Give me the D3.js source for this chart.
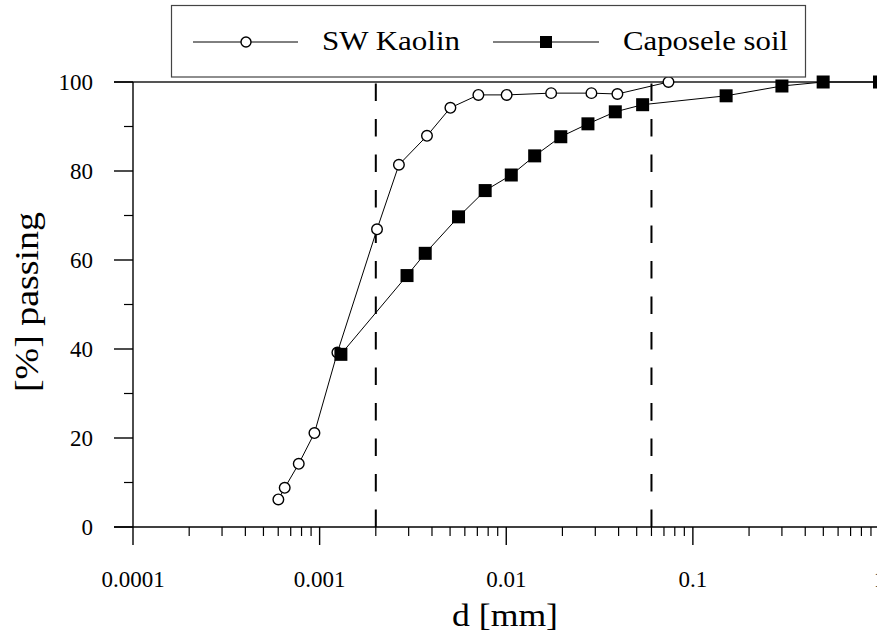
<!DOCTYPE html>
<html>
<head>
<meta charset="utf-8">
<script src="https://cdn.jsdelivr.net/npm/d3@7"></script>
<style>
html,body{margin:0;padding:0;background:#fff;overflow:hidden;}
svg{display:block;}
</style>
</head>
<body>
<svg id="chart" width="877" height="633" font-family="'Liberation Serif', 'Times New Roman', Times, 'DejaVu Serif', serif"></svg>
<script>
// ---- data ----
const kaolinD = [0.000601, 0.00065, 0.000773, 0.000938, 0.001245, 0.00203, 0.00266, 0.00376, 0.00502, 0.00709, 0.01005, 0.0174, 0.0286, 0.0394, 0.074];
const kaolinP = [6.2, 8.8, 14.2, 21.1, 39.2, 66.9, 81.4, 87.9, 94.2, 97.1, 97.1, 97.5, 97.5, 97.3, 100];
const caposeleD = [0.0013, 0.00294, 0.00368, 0.00555, 0.00771, 0.01064, 0.0142, 0.0196, 0.0274, 0.0384, 0.0538, 0.1507, 0.30, 0.499, 1.0];
const caposeleP = [38.8, 56.5, 61.5, 69.7, 75.6, 79.1, 83.4, 87.7, 90.6, 93.3, 94.9, 96.9, 99.1, 100, 100];
const xTickValues = [0.0001, 0.001, 0.01, 0.1, 1];
const xTickLabels = ["0.0001", "0.001", "0.01", "0.1", "1"];
const yTickValues = [0, 20, 40, 60, 80, 100];
const yTickLabels = ["0", "20", "40", "60", "80", "100"];
const refLines = [0.002, 0.06];
const seriesNames = ["SW Kaolin", "Caposele soil"];
const xTitle = "d [mm]";
const yTitle = "[%] passing";

// ---- layout ----
const svg = d3.select("#chart");
const FONT = "'Liberation Serif', 'Times New Roman', Times, 'DejaVu Serif', serif";
const x = d3.scaleLog().domain([0.0001, 1]).range([133, 879.5]);
const y = d3.scaleLinear().domain([0, 100]).range([527, 82]);

// top line
svg.append("line").attr("x1", 114).attr("x2", 877).attr("y1", y(100)).attr("y2", y(100))
  .attr("stroke", "#555").attr("stroke-width", 2);

// minor x ticks
const minorX = [];
for (let e = -4; e < 0; e++) for (let m = 2; m <= 9; m++) minorX.push(m * Math.pow(10, e));
svg.append("g").selectAll("line").data(minorX).join("line")
  .attr("x1", d => x(d)).attr("x2", d => x(d)).attr("y1", y(0)).attr("y2", y(0) + 9)
  .attr("stroke", "#000").attr("stroke-width", 1.2);
svg.append("g").selectAll("line").data(xTickValues).join("line")
  .attr("x1", d => x(d)).attr("x2", d => x(d)).attr("y1", y(0)).attr("y2", y(0) + 18)
  .attr("stroke", "#000").attr("stroke-width", 1.4);
svg.append("g").selectAll("text").data(xTickValues).join("text")
  .attr("x", d => x(d)).attr("y", 587).attr("text-anchor", "middle")
  .attr("font-family", FONT).attr("font-size", 23).text((d, i) => xTickLabels[i]);

// y ticks
const minorY = [10, 30, 50, 70, 90];
svg.append("g").selectAll("line").data(minorY).join("line")
  .attr("x1", 124).attr("x2", 133).attr("y1", d => y(d)).attr("y2", d => y(d))
  .attr("stroke", "#000").attr("stroke-width", 1.2);
svg.append("g").selectAll("line").data(yTickValues).join("line")
  .attr("x1", 114).attr("x2", 133).attr("y1", d => y(d)).attr("y2", d => y(d))
  .attr("stroke", "#000").attr("stroke-width", 1.4);
svg.append("g").selectAll("text").data(yTickValues).join("text")
  .attr("x", 93).attr("y", d => y(d) + 8).attr("text-anchor", "end")
  .attr("font-family", FONT).attr("font-size", 23).text((d, i) => yTickLabels[i]);

// axis lines
svg.append("line").attr("x1", 114).attr("x2", 877).attr("y1", y(0)).attr("y2", y(0))
  .attr("stroke", "#000").attr("stroke-width", 1.4);
svg.append("line").attr("x1", 133).attr("x2", 133).attr("y1", y(100)).attr("y2", y(0))
  .attr("stroke", "#000").attr("stroke-width", 1.4);

// dashed reference lines
svg.append("g").selectAll("line").data(refLines).join("line")
  .attr("x1", d => x(d)).attr("x2", d => x(d)).attr("y1", y(0)).attr("y2", y(100))
  .attr("stroke", "#000").attr("stroke-width", 2).attr("stroke-dasharray", "17.5,18");

// series
const line = d3.line().x(d => x(d[0])).y(d => y(d[1]));
const kData = kaolinD.map((d, i) => [d, kaolinP[i]]);
const cData = caposeleD.map((d, i) => [d, caposeleP[i]]);

svg.append("path").datum(kData).attr("d", line).attr("fill", "none").attr("stroke", "#000").attr("stroke-width", 1);
svg.append("g").selectAll("circle").data(kData).join("circle")
  .attr("cx", d => x(d[0])).attr("cy", d => y(d[1])).attr("r", 5.3)
  .attr("fill", "#fff").attr("stroke", "#000").attr("stroke-width", 1.4);

svg.append("path").datum(cData).attr("d", line).attr("fill", "none").attr("stroke", "#000").attr("stroke-width", 1);
svg.append("g").selectAll("rect").data(cData).join("rect")
  .attr("x", d => x(d[0]) - 6.5).attr("y", d => y(d[1]) - 6.5).attr("width", 13).attr("height", 13)
  .attr("fill", "#000");

// titles
svg.append("text").attr("x", 505).attr("y", 626).attr("text-anchor", "middle")
  .attr("font-family", FONT).attr("font-size", 32).attr("textLength", 106).attr("lengthAdjust", "spacingAndGlyphs").text(xTitle);
svg.append("text").attr("transform", "translate(38,302) rotate(-90)").attr("text-anchor", "middle")
  .attr("font-family", FONT).attr("font-size", 34).attr("textLength", 180).attr("lengthAdjust", "spacingAndGlyphs").text(yTitle);

// legend
const lg = svg.append("g");
lg.append("rect").attr("x", 171.5).attr("y", 5.5).attr("width", 634).attr("height", 71.5)
  .attr("fill", "#fff").attr("stroke", "#444").attr("stroke-width", 1.2);
const ly = 42;
lg.append("line").attr("x1", 193).attr("x2", 298).attr("y1", ly).attr("y2", ly).attr("stroke", "#000").attr("stroke-width", 1);
lg.append("circle").attr("cx", 246).attr("cy", ly).attr("r", 5).attr("fill", "#fff").attr("stroke", "#000").attr("stroke-width", 1.4);
lg.append("text").attr("x", 322).attr("y", 50).attr("font-family", FONT).attr("font-size", 28).attr("textLength", 138)
  .attr("lengthAdjust", "spacingAndGlyphs").text(seriesNames[0]);
lg.append("line").attr("x1", 493).attr("x2", 599).attr("y1", ly).attr("y2", ly).attr("stroke", "#000").attr("stroke-width", 1);
lg.append("rect").attr("x", 540).attr("y", ly - 6).attr("width", 12).attr("height", 12).attr("fill", "#000");
lg.append("text").attr("x", 623).attr("y", 50).attr("font-family", FONT).attr("font-size", 28).attr("textLength", 165)
  .attr("lengthAdjust", "spacingAndGlyphs").text(seriesNames[1]);
</script>
</body>
</html>
